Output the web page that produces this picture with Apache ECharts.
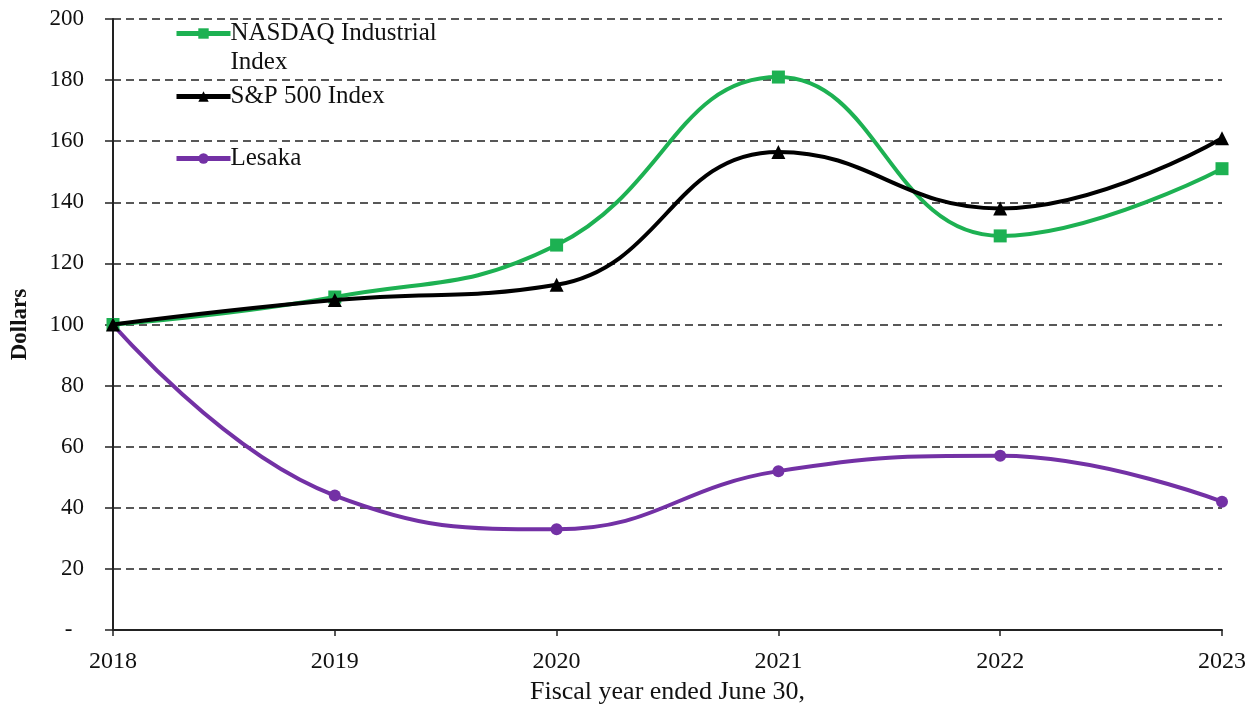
<!DOCTYPE html>
<html><head><meta charset="utf-8">
<script src="https://cdn.jsdelivr.net/npm/echarts@6/dist/echarts.min.js"></script>
<style>html,body{margin:0;padding:0;background:#fff}#c{width:1254px;height:712px}</style>
</head><body><div id="c"></div>
<script>
const years = ['2018','2019','2020','2021','2022','2023'];
const nasdaq = [100, 109, 126, 181, 129, 151];
const sp500 = [100, 108, 113, 156.5, 138, 161];
const lesaka = [100, 44, 33, 52, 57, 42];

const font = 'Liberation Serif';
const chart = echarts.init(document.getElementById('c'));
function legendAt(name, top) {
  return {
    data: [name], left: 174, top: top, padding: 0, itemWidth: 54, itemHeight: 13,
    lineStyle: {width: 5},
    formatter: n => n === 'NASDAQ Industrial Index' ? '\u00a0\nNASDAQ Industrial\nIndex' : n,
    textStyle: {fontFamily: font, fontSize: 25, color: '#111', lineHeight: 29, padding: [0,0,0,-5]},
    selectedMode: false
  };
}
chart.setOption({
  animation: false,
  backgroundColor: '#fff',
  grid: {left: 113, right: 32, top: 19, bottom: 82, outerBoundsMode: 'none'},
  legend: [legendAt('NASDAQ Industrial Index', -10), legendAt('S&P 500 Index', 82), legendAt('Lesaka', 144)],
  xAxis: {
    type: 'category', data: years, boundaryGap: false,
    name: 'Fiscal year ended June 30,', nameLocation: 'middle', nameGap: 46,
    nameTextStyle: {fontFamily: font, fontSize: 26, color: '#111'},
    axisLine: {lineStyle: {color: '#222', width: 2}},
    axisTick: {show: true, length: 6, lineStyle: {color: '#222', width: 1.5}},
    axisLabel: {fontFamily: font, fontSize: 24, color: '#111', margin: 20}
  },
  yAxis: {
    type: 'value', min: 0, max: 200, interval: 20,
    name: 'Dollars', nameLocation: 'middle', nameGap: 81, nameRotate: 90,
    nameTextStyle: {fontFamily: font, fontSize: 23, fontWeight: 'bold', color: '#111'},
    axisLine: {show: true, lineStyle: {color: '#222', width: 2}},
    axisTick: {show: true, length: 8, lineStyle: {color: '#222', width: 1.5}},
    axisLabel: {fontFamily: font, fontSize: 23, color: '#111', margin: 29,
      formatter: v => v === 0 ? '-\u00a0\u00a0' : String(v)},
    splitLine: {show: true, lineStyle: {type: [8, 5], color: '#222', width: 1.5}}
  },
  series: [
    {name: 'NASDAQ Industrial Index', type: 'line', data: nasdaq, smooth: 0.45,
     symbol: 'rect', symbolSize: 13, lineStyle: {width: 4, color: '#1DB152'}, itemStyle: {color: '#1DB152'}, z: 3},
    {name: 'S&P 500 Index', type: 'line', data: sp500, smooth: 0.45,
     symbol: 'triangle', symbolSize: 14, lineStyle: {width: 4, color: '#000'}, itemStyle: {color: '#000'}, z: 4},
    {name: 'Lesaka', type: 'line', data: lesaka, smooth: 0.45,
     symbol: 'circle', symbolSize: 12, lineStyle: {width: 4, color: '#7331A5'}, itemStyle: {color: '#7331A5'}, z: 2}
  ]
});
</script></body></html>
